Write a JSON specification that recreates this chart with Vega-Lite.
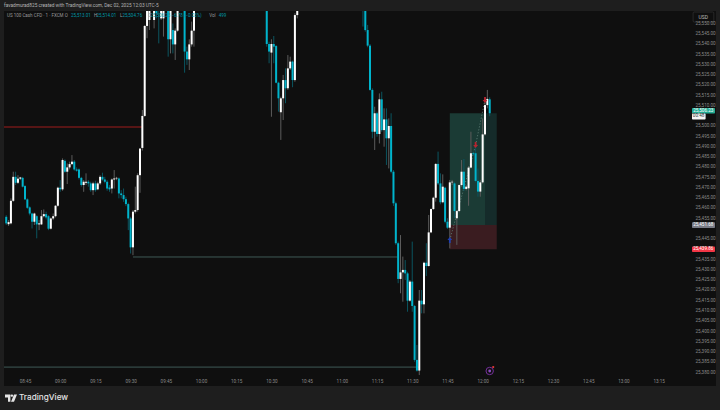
{
"$schema":"https://vega.github.io/schema/vega-lite/v6.json",
"width":688,"height":365,"autosize":{"type":"none"},
"padding":{"left":4,"top":11,"right":28,"bottom":34},
"background":"#1e1e1e",
"config":{"font":"Roboto","view":{"stroke":null},"axis":{"labelOverlap":false,"labelBound":false,"labelFlush":false}},
"datasets":{
"panel":[{"t0":"2025-12-02T08:36:03","t1":"2025-12-02T13:39:24","p0":25373.2,"p1":25556.09}],
"zones":[
{"t0":"2025-12-02T11:46","t1":"2025-12-02T12:01","p0":25451.68,"p1":25506.23,"zone":"target-active"},
{"t0":"2025-12-02T12:01","t1":"2025-12-02T12:06","p0":25451.68,"p1":25506.23,"zone":"target"},
{"t0":"2025-12-02T11:46","t1":"2025-12-02T12:06","p0":25439.86,"p1":25451.68,"zone":"stop"}],
"levels":[
{"t0":"2025-12-02T08:36:03","t1":"2025-12-02T09:35","p":25499.5,"level":"resistance"},
{"t0":"2025-12-02T09:31","t1":"2025-12-02T11:24","p":25436.1,"level":"support"},
{"t0":"2025-12-02T08:36:03","t1":"2025-12-02T11:33","p":25382.4,"level":"support"}],
"trades":[
{"t0":"2025-12-02T11:46","t1":"2025-12-02T11:57","p0":25444.4,"p1":25490.7},
{"t0":"2025-12-02T11:57","t1":"2025-12-02T12:01","p0":25490.7,"p1":25512.7}],
"signals":[
{"t":"2025-12-02T11:46","p":25444.4,"kind":"entry"},
{"t":"2025-12-02T11:57","p":25490.7,"kind":"exit"},
{"t":"2025-12-02T12:01","p":25512.7,"kind":"exit"}],
"candles":[
{"t":"2025-12-02T08:37","o":25455.7,"h":25456.5,"l":25451.7,"c":25452.5},
{"t":"2025-12-02T08:38","o":25452.1,"h":25454.1,"l":25451.2,"c":25453.1},
{"t":"2025-12-02T08:39","o":25452.5,"h":25464.7,"l":25452,"c":25463.5},
{"t":"2025-12-02T08:40","o":25463.5,"h":25477.7,"l":25463,"c":25475.2},
{"t":"2025-12-02T08:41","o":25475.2,"h":25477.7,"l":25471.2,"c":25472.3},
{"t":"2025-12-02T08:42","o":25472.3,"h":25476,"l":25471.7,"c":25474.3},
{"t":"2025-12-02T08:43","o":25474.3,"h":25475.2,"l":25473.6,"c":25474.9},
{"t":"2025-12-02T08:44","o":25474.7,"h":25475.2,"l":25470,"c":25470.4},
{"t":"2025-12-02T08:45","o":25470.7,"h":25471.2,"l":25463.9,"c":25464.2},
{"t":"2025-12-02T08:46","o":25464.2,"h":25464.7,"l":25459.6,"c":25460.1},
{"t":"2025-12-02T08:47","o":25460.3,"h":25460.8,"l":25456.4,"c":25457.3},
{"t":"2025-12-02T08:48","o":25457.3,"h":25457.7,"l":25450,"c":25453.3},
{"t":"2025-12-02T08:49","o":25453.3,"h":25457.7,"l":25451.7,"c":25457.3},
{"t":"2025-12-02T08:50","o":25456,"h":25456.5,"l":25445.2,"c":25452},
{"t":"2025-12-02T08:51","o":25452,"h":25454.1,"l":25449.2,"c":25452.5},
{"t":"2025-12-02T08:52","o":25452,"h":25459,"l":25451.7,"c":25456},
{"t":"2025-12-02T08:53","o":25456,"h":25459.3,"l":25455.4,"c":25457},
{"t":"2025-12-02T08:54","o":25457,"h":25458.2,"l":25454.4,"c":25455.4},
{"t":"2025-12-02T08:55","o":25456,"h":25456.5,"l":25449.2,"c":25449.9},
{"t":"2025-12-02T08:56","o":25449.9,"h":25455.4,"l":25449.5,"c":25454.9},
{"t":"2025-12-02T08:57","o":25454.9,"h":25457.3,"l":25454.1,"c":25456},
{"t":"2025-12-02T08:58","o":25456,"h":25461.4,"l":25455.4,"c":25461.1},
{"t":"2025-12-02T08:59","o":25461.1,"h":25470.4,"l":25460.6,"c":25469.9},
{"t":"2025-12-02T09:00","o":25469.9,"h":25473.6,"l":25467.9,"c":25469.1},
{"t":"2025-12-02T09:01","o":25469.1,"h":25484.2,"l":25468.4,"c":25483.4},
{"t":"2025-12-02T09:02","o":25483,"h":25483.7,"l":25477.2,"c":25477.7},
{"t":"2025-12-02T09:03","o":25477.7,"h":25481.7,"l":25471.7,"c":25479.8},
{"t":"2025-12-02T09:04","o":25479.8,"h":25482.6,"l":25478.8,"c":25481.4},
{"t":"2025-12-02T09:05","o":25481.4,"h":25485.8,"l":25480.9,"c":25482.6},
{"t":"2025-12-02T09:06","o":25482.6,"h":25483.4,"l":25478.2,"c":25478.8},
{"t":"2025-12-02T09:07","o":25478.8,"h":25479.8,"l":25477.7,"c":25478.2},
{"t":"2025-12-02T09:08","o":25478.8,"h":25479.3,"l":25473.9,"c":25474.7},
{"t":"2025-12-02T09:09","o":25474.7,"h":25475.2,"l":25470.4,"c":25471.2},
{"t":"2025-12-02T09:10","o":25471.2,"h":25473.6,"l":25467.9,"c":25472.8},
{"t":"2025-12-02T09:11","o":25472.3,"h":25476.9,"l":25471.2,"c":25472.8},
{"t":"2025-12-02T09:12","o":25472.8,"h":25473.6,"l":25470.4,"c":25472},
{"t":"2025-12-02T09:13","o":25472,"h":25472.8,"l":25467.9,"c":25468.7},
{"t":"2025-12-02T09:14","o":25468.7,"h":25472.8,"l":25466.3,"c":25472},
{"t":"2025-12-02T09:15","o":25472,"h":25473.3,"l":25467.9,"c":25468.7},
{"t":"2025-12-02T09:16","o":25469.1,"h":25472.8,"l":25468.7,"c":25472},
{"t":"2025-12-02T09:17","o":25472,"h":25476,"l":25471.2,"c":25475.2},
{"t":"2025-12-02T09:18","o":25475.2,"h":25477.2,"l":25473.3,"c":25473.9},
{"t":"2025-12-02T09:19","o":25473.9,"h":25475.2,"l":25472,"c":25472.8},
{"t":"2025-12-02T09:20","o":25472.8,"h":25473.6,"l":25468.4,"c":25469.5},
{"t":"2025-12-02T09:21","o":25470,"h":25471.2,"l":25467.9,"c":25469.1},
{"t":"2025-12-02T09:22","o":25469.5,"h":25474.4,"l":25467.1,"c":25473.9},
{"t":"2025-12-02T09:23","o":25473.9,"h":25478.5,"l":25469.5,"c":25474.4},
{"t":"2025-12-02T09:24","o":25474.4,"h":25475.2,"l":25473.6,"c":25474.7},
{"t":"2025-12-02T09:25","o":25474.4,"h":25474.9,"l":25464.7,"c":25467.1},
{"t":"2025-12-02T09:26","o":25467.1,"h":25468.7,"l":25464.7,"c":25466.3},
{"t":"2025-12-02T09:27","o":25466.3,"h":25469.5,"l":25463,"c":25464.3},
{"t":"2025-12-02T09:28","o":25464.3,"h":25465.5,"l":25460.9,"c":25461.9},
{"t":"2025-12-02T09:29","o":25461.9,"h":25462.6,"l":25449.2,"c":25454.9},
{"t":"2025-12-02T09:30","o":25454.9,"h":25455.7,"l":25437.8,"c":25440.8},
{"t":"2025-12-02T09:31","o":25440.8,"h":25459,"l":25437,"c":25458.2},
{"t":"2025-12-02T09:32","o":25458.2,"h":25470.4,"l":25457.3,"c":25459},
{"t":"2025-12-02T09:33","o":25459,"h":25476.9,"l":25458.2,"c":25476},
{"t":"2025-12-02T09:34","o":25476,"h":25489,"l":25467.4,"c":25489},
{"t":"2025-12-02T09:35","o":25489.3,"h":25507.8,"l":25488,"c":25504.9},
{"t":"2025-12-02T09:36","o":25504.9,"h":25549.3,"l":25504.5,"c":25548.8},
{"t":"2025-12-02T09:37","o":25548.8,"h":25560,"l":25542.8,"c":25558.2},
{"t":"2025-12-02T09:38","o":25551.7,"h":25560,"l":25546.8,"c":25558.2},
{"t":"2025-12-02T09:40","o":25551.7,"h":25560,"l":25547.6,"c":25558.2},
{"t":"2025-12-02T09:41","o":25558,"h":25560,"l":25552.5,"c":25555},
{"t":"2025-12-02T09:42","o":25560,"h":25562,"l":25540.3,"c":25556.3},
{"t":"2025-12-02T09:43","o":25552.5,"h":25558,"l":25551.7,"c":25556.3},
{"t":"2025-12-02T09:44","o":25552.5,"h":25560,"l":25543.6,"c":25558.2},
{"t":"2025-12-02T09:46","o":25558.2,"h":25560,"l":25533.8,"c":25542.3},
{"t":"2025-12-02T09:47","o":25542.3,"h":25560,"l":25535.4,"c":25558.2},
{"t":"2025-12-02T09:48","o":25546.8,"h":25550,"l":25535.4,"c":25539.8},
{"t":"2025-12-02T09:49","o":25539.8,"h":25547.6,"l":25532.2,"c":25546.5},
{"t":"2025-12-02T09:50","o":25546.5,"h":25560,"l":25546,"c":25558.2},
{"t":"2025-12-02T09:53","o":25558.2,"h":25560,"l":25526,"c":25536.3},
{"t":"2025-12-02T09:54","o":25536.3,"h":25538.7,"l":25529.8,"c":25532.5},
{"t":"2025-12-02T09:55","o":25532.5,"h":25542.3,"l":25527.3,"c":25539.8},
{"t":"2025-12-02T09:56","o":25539.8,"h":25550.9,"l":25538.7,"c":25546.5},
{"t":"2025-12-02T09:57","o":25546.5,"h":25560,"l":25538.7,"c":25558.2},
{"t":"2025-12-02T10:28","o":25558.2,"h":25560,"l":25538.7,"c":25540},
{"t":"2025-12-02T10:29","o":25540,"h":25541.1,"l":25530.6,"c":25536.3},
{"t":"2025-12-02T10:30","o":25535.8,"h":25542.3,"l":25504.5,"c":25540},
{"t":"2025-12-02T10:31","o":25540,"h":25543.9,"l":25530.6,"c":25538.7},
{"t":"2025-12-02T10:32","o":25539,"h":25539.5,"l":25520.8,"c":25521.1},
{"t":"2025-12-02T10:33","o":25521.1,"h":25521.6,"l":25507,"c":25513.5},
{"t":"2025-12-02T10:34","o":25506.7,"h":25514.3,"l":25493.2,"c":25513.5},
{"t":"2025-12-02T10:35","o":25513.5,"h":25524.9,"l":25502.9,"c":25522.4},
{"t":"2025-12-02T10:36","o":25522.4,"h":25528.1,"l":25511.1,"c":25518.4},
{"t":"2025-12-02T10:37","o":25518.4,"h":25534.6,"l":25517.6,"c":25528.1},
{"t":"2025-12-02T10:38","o":25528.1,"h":25533.8,"l":25527.3,"c":25531.4},
{"t":"2025-12-02T10:39","o":25531.4,"h":25531.9,"l":25518.9,"c":25522.4},
{"t":"2025-12-02T10:40","o":25522.4,"h":25555,"l":25521.6,"c":25554.1},
{"t":"2025-12-02T10:41","o":25554.1,"h":25561,"l":25552.5,"c":25558.2},
{"t":"2025-12-02T11:09","o":25561,"h":25563,"l":25548.5,"c":25558},
{"t":"2025-12-02T11:10","o":25559,"h":25561,"l":25546,"c":25546.8},
{"t":"2025-12-02T11:11","o":25546.8,"h":25549.3,"l":25538.4,"c":25539.2},
{"t":"2025-12-02T11:12","o":25539.2,"h":25540,"l":25517.2,"c":25517.6},
{"t":"2025-12-02T11:13","o":25517.6,"h":25518.4,"l":25494,"c":25497.2},
{"t":"2025-12-02T11:14","o":25497.2,"h":25509.4,"l":25488.3,"c":25506.2},
{"t":"2025-12-02T11:15","o":25506.2,"h":25507,"l":25494.8,"c":25496.1},
{"t":"2025-12-02T11:16","o":25496.1,"h":25515.9,"l":25491.5,"c":25513},
{"t":"2025-12-02T11:17","o":25513,"h":25516.7,"l":25497.2,"c":25498},
{"t":"2025-12-02T11:18","o":25498,"h":25508.6,"l":25489.9,"c":25503.2},
{"t":"2025-12-02T11:19","o":25503.2,"h":25508.6,"l":25481,"c":25494},
{"t":"2025-12-02T11:20","o":25494,"h":25503.7,"l":25479.3,"c":25500},
{"t":"2025-12-02T11:21","o":25500,"h":25506.2,"l":25476.9,"c":25477.7},
{"t":"2025-12-02T11:22","o":25477.7,"h":25478.5,"l":25461,"c":25462.3},
{"t":"2025-12-02T11:23","o":25462.3,"h":25463.1,"l":25442,"c":25442.8},
{"t":"2025-12-02T11:24","o":25442.8,"h":25443.6,"l":25423.3,"c":25425.4},
{"t":"2025-12-02T11:25","o":25425.4,"h":25446.8,"l":25418.4,"c":25428.6},
{"t":"2025-12-02T11:26","o":25428.6,"h":25436.3,"l":25414.3,"c":25429.8},
{"t":"2025-12-02T11:27","o":25429.8,"h":25434.6,"l":25424.9,"c":25428.1},
{"t":"2025-12-02T11:28","o":25428.1,"h":25428.9,"l":25409.4,"c":25414.8},
{"t":"2025-12-02T11:29","o":25414.8,"h":25424.9,"l":25414.3,"c":25424.1},
{"t":"2025-12-02T11:30","o":25424.1,"h":25443.6,"l":25409.4,"c":25412.2},
{"t":"2025-12-02T11:31","o":25412.2,"h":25412.7,"l":25385,"c":25385.9},
{"t":"2025-12-02T11:32","o":25385.9,"h":25393.2,"l":25380.2,"c":25380.7},
{"t":"2025-12-02T11:33","o":25380.7,"h":25420,"l":25378.5,"c":25414.8},
{"t":"2025-12-02T11:34","o":25414.8,"h":25420,"l":25408.6,"c":25413},
{"t":"2025-12-02T11:35","o":25413,"h":25433.8,"l":25408.6,"c":25433.3},
{"t":"2025-12-02T11:36","o":25433.3,"h":25442.8,"l":25426.8,"c":25431.7},
{"t":"2025-12-02T11:37","o":25431.7,"h":25456.6,"l":25431.4,"c":25448.1},
{"t":"2025-12-02T11:38","o":25448.1,"h":25459.8,"l":25447.7,"c":25459.5},
{"t":"2025-12-02T11:39","o":25459.5,"h":25465.5,"l":25459,"c":25465},
{"t":"2025-12-02T11:40","o":25465,"h":25481.8,"l":25463.1,"c":25481.5},
{"t":"2025-12-02T11:41","o":25481.5,"h":25487.5,"l":25471.2,"c":25472},
{"t":"2025-12-02T11:42","o":25472,"h":25476.9,"l":25461.8,"c":25462.8},
{"t":"2025-12-02T11:43","o":25462.8,"h":25476.4,"l":25462.3,"c":25470.4},
{"t":"2025-12-02T11:44","o":25469.9,"h":25470.4,"l":25452.5,"c":25453.3},
{"t":"2025-12-02T11:45","o":25453.3,"h":25455,"l":25449.8,"c":25450.4},
{"t":"2025-12-02T11:46","o":25450.4,"h":25473.7,"l":25440.3,"c":25472.5},
{"t":"2025-12-02T11:47","o":25472.5,"h":25473.7,"l":25471.2,"c":25472.8},
{"t":"2025-12-02T11:48","o":25472,"h":25472.8,"l":25455,"c":25458.5},
{"t":"2025-12-02T11:49","o":25455,"h":25459,"l":25442,"c":25458.5},
{"t":"2025-12-02T11:50","o":25458.5,"h":25471.5,"l":25457.9,"c":25471.2},
{"t":"2025-12-02T11:51","o":25471.2,"h":25483.4,"l":25470.4,"c":25477.7},
{"t":"2025-12-02T11:52","o":25477.7,"h":25483.9,"l":25468.3,"c":25469.3},
{"t":"2025-12-02T11:53","o":25469.3,"h":25471.2,"l":25468.6,"c":25470.4},
{"t":"2025-12-02T11:54","o":25469.6,"h":25480.5,"l":25461.1,"c":25479.7},
{"t":"2025-12-02T11:55","o":25479.7,"h":25497.2,"l":25479.3,"c":25486.7},
{"t":"2025-12-02T11:56","o":25486.7,"h":25487.5,"l":25485.5,"c":25486.2},
{"t":"2025-12-02T11:57","o":25486.7,"h":25491,"l":25472.5,"c":25473.2},
{"t":"2025-12-02T11:58","o":25473.2,"h":25479.3,"l":25465.5,"c":25468},
{"t":"2025-12-02T11:59","o":25468,"h":25473.7,"l":25465.5,"c":25472.5},
{"t":"2025-12-02T12:00","o":25472.5,"h":25503.7,"l":25471.9,"c":25495.9},
{"t":"2025-12-02T12:01","o":25495.9,"h":25513.5,"l":25495.3,"c":25510.2},
{"t":"2025-12-02T12:02","o":25510.2,"h":25517.6,"l":25508.6,"c":25513.2},
{"t":"2025-12-02T12:03","o":25513.01,"h":25514.01,"l":25504.76,"c":25506.23}],
"tags":[
{"t0":"2025-12-02T13:29:12","t1":"2025-12-02T13:39","tm":"2025-12-02T13:34","p0":25506.1,"p1":25508.8,"pm":25507.45,"tag":"last","text":"25,506.23"},
{"t0":"2025-12-02T13:29:12","t1":"2025-12-02T13:35","tm":"2025-12-02T13:32","p0":25503.2,"p1":25506.1,"pm":25504.65,"tag":"countdown","text":"00:48"},
{"t0":"2025-12-02T13:29:12","t1":"2025-12-02T13:39","tm":"2025-12-02T13:34","p0":25450.3,"p1":25453.1,"pm":25451.68,"tag":"entry","text":"25,451.68"},
{"t0":"2025-12-02T13:29:12","t1":"2025-12-02T13:39","tm":"2025-12-02T13:34","p0":25438.5,"p1":25441.2,"pm":25439.86,"tag":"stop","text":"25,439.86"}],
"currency":[{"t0":"2025-12-02T13:29:40","t1":"2025-12-02T13:38:30","tm":"2025-12-02T13:34","p0":25550.7,"p1":25555.6,"pm":25553.1,"text":"USD"}],
"notes":[
{"t":"2025-12-02T08:36:03","p":25558.5,"kind":"head","text":"favadmurad825 created with TradingView.com, Dec 02, 2025 12:03 UTC-5"},
{"t":"2025-12-02T08:37:20","p":25553.7,"kind":"label","text":"US 100 Cash CFD · 1 · FXCM O"},
{"t":"2025-12-02T09:04:36","p":25553.7,"kind":"value","text":"25,513.01"},
{"t":"2025-12-02T09:14:24","p":25553.7,"kind":"label","text":"H"},
{"t":"2025-12-02T09:15:30","p":25553.7,"kind":"value","text":"25,514.01"},
{"t":"2025-12-02T09:25:30","p":25553.7,"kind":"label","text":"L"},
{"t":"2025-12-02T09:26:30","p":25553.7,"kind":"value","text":"25,504.76"},
{"t":"2025-12-02T09:37:30","p":25553.7,"kind":"label","text":"C"},
{"t":"2025-12-02T09:38:30","p":25553.7,"kind":"value","text":"25,506.23 −6.78 (−0.03%)"},
{"t":"2025-12-02T10:03:30","p":25553.7,"kind":"label","text":"Vol"},
{"t":"2025-12-02T10:07:30","p":25553.7,"kind":"value","text":"499"}]
},
"layer":[
{"data":{"name":"panel"},"mark":{"type":"rect","fill":"#0f0f0f"},
 "encoding":{
  "x":{"field":"t0","type":"temporal","title":null,"scale":{"domain":["2025-12-02T08:36:03","2025-12-02T13:29:12"],"padding":0,"nice":false},
   "axis":{"format":"%H:%M","grid":false,"domain":false,"ticks":false,"labelPadding":2,"labelFontSize":4.6,"labelColor":"#8a8a8a","labelFlush":false,"labelOverlap":false,"zindex":1}},
  "x2":{"field":"t1"},
  "y":{"field":"p0","type":"quantitative","title":null,"scale":{"domain":[25378.05,25556.09],"nice":false,"zero":false},
   "axis":{"orient":"right","tickCount":50,"values":[25380,25385,25390,25395,25400,25405,25410,25415,25420,25425,25430,25435,25445,25455,25460,25465,25470,25475,25480,25485,25490,25495,25500,25510,25515,25520,25525,25530,25535,25540,25545,25550],"format":",.2f","grid":false,"domain":false,"ticks":false,"labelPadding":3,"labelFontSize":4.6,"labelColor":"#8a8a8a","labelFlush":false,"labelOverlap":false,"zindex":1}},
  "y2":{"field":"p1"}}},
{"data":{"name":"zones"},"mark":{"type":"rect"},
 "encoding":{"x":{"field":"t0","type":"temporal"},"x2":{"field":"t1"},"y":{"field":"p0","type":"quantitative"},"y2":{"field":"p1"},
  "color":{"condition":[{"test":"datum.zone==='target-active'","value":"#1b3b35"},{"test":"datum.zone==='target'","value":"#152b2a"}],"value":"#3a1c20"}}},
{"data":{"name":"levels"},"mark":{"type":"rule","strokeWidth":1},
 "encoding":{"x":{"field":"t0","type":"temporal"},"x2":{"field":"t1"},"y":{"field":"p","type":"quantitative"},
  "color":{"condition":{"test":"datum.level==='resistance'","value":"#a01c1c"},"value":"#3f5a56"}}},
{"data":{"name":"trades"},"mark":{"type":"rule","strokeWidth":1,"strokeDash":[1,2],"color":"#5f7f78"},
 "encoding":{"x":{"field":"t0","type":"temporal"},"x2":{"field":"t1"},"y":{"field":"p0","type":"quantitative"},"y2":{"field":"p1"}}},
{"data":{"name":"candles"},"mark":{"type":"rule","strokeWidth":1,"clip":true},
 "encoding":{"x":{"field":"t","type":"temporal"},"y":{"field":"l","type":"quantitative"},"y2":{"field":"h"},
  "color":{"condition":{"test":"datum.c>=datum.o","value":"#5c5c5c"},"value":"#0b5560"}}},
{"data":{"name":"candles"},"mark":{"type":"bar","size":2,"clip":true},
 "encoding":{"x":{"field":"t","type":"temporal"},"y":{"field":"o","type":"quantitative"},"y2":{"field":"c"},
  "color":{"condition":{"test":"datum.c>=datum.o","value":"#ffffff"},"value":"#00b4cc"}}},
{"data":{"name":"signals"},"transform":[{"filter":"datum.kind==='entry'"}],"mark":{"type":"point","filled":true,"size":36,"opacity":1,"color":"#1f3fb0","shape":"M0 -1L0.8 0H0.3V1H-0.3V0H-0.8Z"},
 "encoding":{"x":{"field":"t","type":"temporal"},"y":{"field":"p","type":"quantitative"}}},
{"data":{"name":"signals"},"transform":[{"filter":"datum.kind==='exit'"}],"mark":{"type":"point","filled":true,"size":36,"opacity":1,"color":"#b8232f","shape":"M0 1L0.8 0H0.3V-1H-0.3V0H-0.8Z"},
 "encoding":{"x":{"field":"t","type":"temporal"},"y":{"field":"p","type":"quantitative"}}},
{"data":{"values":[{"t":"2025-12-02T12:03","p":25380.5}]},"mark":{"type":"point","filled":false,"size":55,"strokeWidth":1,"color":"#74309a","opacity":1},
 "encoding":{"x":{"field":"t","type":"temporal"},"y":{"field":"p","type":"quantitative"}}},
{"data":{"values":[{"t":"2025-12-02T12:03","p":25380.5}]},"mark":{"type":"point","filled":true,"size":8,"color":"#8d4cc0","opacity":1},
 "encoding":{"x":{"field":"t","type":"temporal"},"y":{"field":"p","type":"quantitative"}}},
{"data":{"values":[{"t":"2025-12-02T12:04:30","p":25382.4}]},"mark":{"type":"point","filled":true,"size":5,"color":"#e53935","opacity":1},
 "encoding":{"x":{"field":"t","type":"temporal"},"y":{"field":"p","type":"quantitative"}}},
{"data":{"name":"currency"},"mark":{"type":"rect","fill":"#0f0f0f","stroke":"#333333","strokeWidth":0.7,"cornerRadius":1},
 "encoding":{"x":{"field":"t0","type":"temporal"},"x2":{"field":"t1"},"y":{"field":"p0","type":"quantitative"},"y2":{"field":"p1"}}},
{"data":{"name":"currency"},"mark":{"type":"text","fontSize":5,"color":"#bbbbbb"},
 "encoding":{"x":{"field":"tm","type":"temporal"},"y":{"field":"pm","type":"quantitative"},"text":{"field":"text"}}},
{"data":{"name":"tags"},"mark":{"type":"rect","cornerRadius":1},
 "encoding":{"x":{"field":"t0","type":"temporal"},"x2":{"field":"t1"},"y":{"field":"p0","type":"quantitative"},"y2":{"field":"p1"},
  "color":{"condition":[{"test":"datum.tag==='last'","value":"#22ab94"},{"test":"datum.tag==='countdown'","value":"#f5f5f5"},{"test":"datum.tag==='entry'","value":"#787b86"}],"value":"#f23645"}}},
{"data":{"name":"tags"},"mark":{"type":"text","fontSize":4.6},
 "encoding":{"x":{"field":"tm","type":"temporal"},"y":{"field":"pm","type":"quantitative"},"text":{"field":"text"},
  "color":{"condition":{"test":"datum.tag==='countdown'","value":"#333333"},"value":"#ffffff"}}},
{"data":{"name":"notes"},"transform":[{"filter":"datum.kind==='head'"}],"mark":{"type":"text","align":"left","baseline":"middle","fontSize":4.75,"color":"#b5b5b5"},
 "encoding":{"x":{"field":"t","type":"temporal"},"y":{"field":"p","type":"quantitative"},"text":{"field":"text"}}},
{"data":{"name":"notes"},"transform":[{"filter":"datum.kind!=='head'"}],"mark":{"type":"text","align":"left","baseline":"middle","fontSize":4.5},
 "encoding":{"x":{"field":"t","type":"temporal"},"y":{"field":"p","type":"quantitative"},"text":{"field":"text"},
  "color":{"condition":{"test":"datum.kind==='label'","value":"#9a9a9a"},"value":"#0097a7"}}},
{"data":{"values":[{"t":"2025-12-02T08:39:02","p":25367.3}]},"mark":{"type":"point","filled":true,"size":144,"opacity":1,"color":"#e4e4e4","shape":"M-1 -0.6H-0.1V0.6H-0.5V-0.1H-1Z M0.15 -0.2A0.2 0.2 0 1 1 0.15 -0.6A0.2 0.2 0 1 1 0.15 -0.2Z M0.5 -0.6H1L0.5 0.6H0Z"},
 "encoding":{"x":{"field":"t","type":"temporal"},"y":{"field":"p","type":"quantitative"}}},
{"data":{"values":[{"t":"2025-12-02T08:42:26","p":25367.3,"text":"TradingView"}]},"mark":{"type":"text","align":"left","baseline":"middle","fontSize":8.2,"fontWeight":500,"color":"#e4e4e4","font":"Inter"},
 "encoding":{"x":{"field":"t","type":"temporal"},"y":{"field":"p","type":"quantitative"},"text":{"field":"text"}}}
]
}
